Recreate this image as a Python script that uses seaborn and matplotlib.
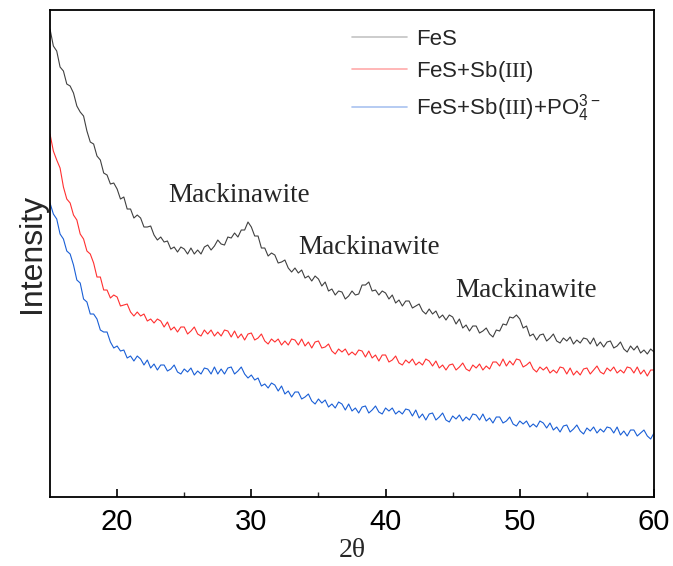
import numpy as np
import pandas as pd
import matplotlib
matplotlib.use("Agg")
import matplotlib.pyplot as plt
import seaborn as sns

# 2theta grid of the scan (0.25 deg steps)
two_theta = np.arange(15, 60.001, 0.25)

# intensities (a.u.), including the visible noise
fes = [468, 451, 446, 430, 426, 413, 411, 404, 391, 385, 381, 366, 355, 353, 341, 337, 324, 322, 313, 314,
       308, 298, 300, 288, 288, 279, 282, 279, 270, 270, 271, 262, 257, 260, 255, 256, 248, 250, 245, 250,
       248, 243, 249, 243, 247, 243, 250, 252, 247, 251, 257, 253, 252, 260, 259, 264, 260, 267, 267, 275,
       270, 261, 261, 249, 249, 241, 244, 242, 234, 235, 237, 229, 225, 229, 224, 227, 219, 221, 216, 221,
       218, 211, 215, 206, 208, 202, 206, 205, 198, 201, 206, 202, 203, 212, 212, 215, 206, 207, 202, 206,
       204, 198, 202, 194, 197, 191, 196, 196, 189, 191, 193, 186, 183, 188, 183, 186, 179, 182, 177, 182,
       180, 173, 178, 169, 172, 166, 171, 171, 164, 166, 169, 163, 160, 167, 166, 173, 172, 180, 179, 182,
       178, 169, 171, 161, 163, 157, 162, 163, 156, 159, 163, 156, 154, 159, 156, 160, 153, 157, 154, 159,
       158, 153, 159, 151, 155, 150, 155, 156, 149, 151, 155, 148, 145, 151, 147, 151, 144, 147, 143, 148,
       145]

fes_sb = [363, 346, 337, 329, 310, 298, 294, 282, 277, 263, 258, 246, 243, 234, 220, 220, 207, 207, 199, 202,
          200, 191, 192, 193, 185, 181, 185, 181, 183, 176, 178, 174, 178, 176, 170, 175, 167, 170, 165, 170,
          170, 163, 166, 170, 163, 161, 167, 163, 167, 161, 165, 161, 167, 166, 160, 166, 159, 163, 157, 163,
          164, 157, 159, 163, 156, 153, 158, 155, 158, 152, 156, 152, 158, 157, 152, 158, 151, 155, 149, 155,
          156, 149, 150, 153, 146, 143, 148, 145, 148, 142, 145, 142, 147, 146, 140, 146, 139, 142, 136, 142,
          142, 135, 137, 141, 134, 132, 137, 134, 138, 132, 135, 132, 138, 136, 131, 136, 129, 132, 127, 132,
          133, 127, 130, 134, 128, 126, 132, 129, 133, 127, 131, 128, 135, 135, 131, 138, 131, 136, 132, 138,
          137, 130, 132, 135, 128, 125, 130, 127, 130, 124, 127, 124, 130, 129, 123, 129, 122, 126, 122, 128,
          129, 123, 127, 131, 125, 123, 129, 126, 130, 124, 127, 124, 130, 129, 124, 130, 123, 127, 121, 127,
          127]

fes_sb_po4 = [294, 283, 278, 263, 258, 246, 243, 232, 217, 214, 198, 195, 183, 183, 178, 167, 165, 165, 155, 149,
              151, 146, 147, 139, 141, 136, 141, 138, 132, 137, 129, 133, 127, 132, 132, 126, 128, 132, 125, 123,
              128, 125, 129, 122, 126, 123, 129, 128, 123, 130, 123, 128, 123, 129, 130, 123, 126, 130, 123, 119,
              122, 117, 119, 111, 113, 109, 114, 112, 106, 111, 103, 106, 100, 105, 105, 98, 100, 103, 96, 93,
              98, 94, 97, 90, 93, 89, 95, 93, 87, 93, 86, 89, 84, 90, 91, 84, 87, 91, 85, 83,
              89, 86, 89, 83, 86, 83, 88, 87, 81, 87, 79, 83, 77, 83, 84, 77, 80, 84, 77, 75,
              81, 78, 82, 76, 80, 77, 83, 82, 77, 83, 76, 79, 74, 80, 80, 74, 76, 80, 73, 71,
              76, 73, 76, 70, 73, 70, 76, 74, 69, 74, 67, 70, 65, 71, 72, 65, 68, 72, 66, 63,
              69, 66, 70, 64, 68, 65, 70, 69, 64, 70, 62, 66, 61, 67, 67, 61, 64, 67, 61, 58,
              64]

samples = ["FeS", "FeS+Sb($\\mathrm{III}$)", "FeS+Sb($\\mathrm{III}$)+PO$_{\\mathsf{4}}^{\\mathsf{3-}}$"]
line_colors = ["#404040", "#ff3030", "#1a5fd6"]
legend_colors = ["#c4c4c4", "#ffaaaa", "#a9c2f0"]

# peak labels (2theta, intensity)
peak_text = ["Mackinawite", "Mackinawite", "Mackinawite"]
peak_x = [29.1, 38.8, 50.5]
peak_y = [302, 250, 207]

df = pd.concat([
    pd.DataFrame({"2theta": two_theta, "Intensity": vals, "sample": name})
    for name, vals in zip(samples, [fes, fes_sb, fes_sb_po4])
])

sns.set_theme(style="white")
plt.rcParams["font.family"] = ["Liberation Sans", "DejaVu Sans"]
plt.rcParams["mathtext.fontset"] = "custom"
plt.rcParams["mathtext.rm"] = "Liberation Serif"
plt.rcParams["mathtext.sf"] = "Liberation Sans"

fig = plt.figure(figsize=(6.73, 5.66), dpi=100)
ax = fig.add_axes([0.0743, 0.1219, 0.8975, 0.8604])

sns.lineplot(data=df, x="2theta", y="Intensity", hue="sample", palette=line_colors,
             estimator=None, sort=False, lw=0.8, ax=ax)

ax.set_xlim(15, 60)
ax.set_ylim(0, 487)
ax.set_xticks([20, 30, 40, 50, 60])
ax.set_xticks([25, 35, 45, 55], minor=True)
ax.set_yticks([])
ax.tick_params(axis="x", which="major", direction="in", length=6, width=1.2,
               labelsize=21, pad=8, bottom=True, top=False, colors="black")
ax.tick_params(axis="x", which="minor", direction="in", length=3.5, width=1.0, bottom=True, top=False)
for s in ax.spines.values():
    s.set_color("black")
    s.set_linewidth(1.3)

ax.set_xlabel("2θ", family="Liberation Serif", fontsize=20, labelpad=1)
ax.set_ylabel("Intensity", fontsize=23, labelpad=2)

for t, x, y in zip(peak_text, peak_x, peak_y):
    ax.text(x, y, t, family="Liberation Serif", fontsize=19.5, ha="center", va="center")

leg = ax.legend(loc="upper left", bbox_to_anchor=(0.485, 0.98), frameon=False, fontsize=16,
                handlelength=2.5, labelspacing=0.4, borderaxespad=0, handletextpad=0.4)
for h, c in zip(leg.get_lines(), legend_colors):
    h.set_color(c)
    h.set_linewidth(1.2)

fig.savefig("out.png", dpi=100)
